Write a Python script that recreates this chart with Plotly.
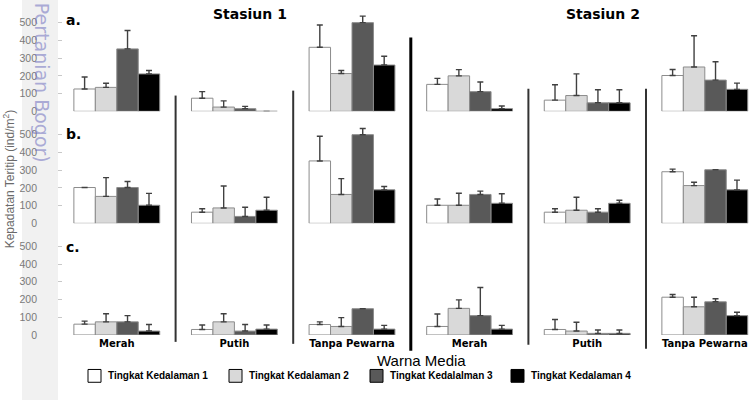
import plotly.graph_objects as go
from plotly.subplots import make_subplots

# ---------------- data ----------------
categories = ["Merah", "Putih", "Tanpa Pewarna", "Merah", "Putih", "Tanpa Pewarna"]
stations = ["Stasiun 1", "Stasiun 2"]
panel_labels = ["a.", "b.", "c."]
series_names = ["Tingkat Kedalaman 1", "Tingkat Kedalaman 2",
                "Tingkat Kedalalman 3", "Tingkat Kedalaman 4"]
y_ticks = [0, 100, 200, 300, 400, 500]

# panel a
a_level1 = [126, 74, 361, 152, 63, 202]
a_level2 = [135, 24, 213, 200, 89, 250]
a_level3 = [352, 15, 500, 111, 48, 176]
a_level4 = [211, 0, 261, 15, 48, 124]
a_err1 = [68, 37, 126, 34, 87, 34]
a_err2 = [23, 35, 17, 35, 122, 176]
a_err3 = [104, 13, 37, 54, 74, 104]
a_err4 = [19, 0, 50, 15, 74, 35]

# panel b
b_level1 = [202, 63, 352, 102, 63, 291]
b_level2 = [152, 87, 163, 102, 74, 213]
b_level3 = [202, 39, 500, 163, 63, 302]
b_level4 = [102, 74, 189, 113, 113, 189]
b_err1 = [0, 19, 139, 35, 19, 15]
b_err2 = [106, 124, 89, 68, 73, 19]
b_err3 = [34, 52, 35, 19, 19, 0]
b_err4 = [67, 73, 19, 54, 17, 55]

# panel c
c_level1 = [61, 31, 59, 48, 31, 213]
c_level2 = [74, 74, 48, 150, 22, 159]
c_level3 = [74, 22, 148, 109, 9, 187]
c_level4 = [22, 33, 33, 33, 9, 109]
c_err1 = [17, 25, 15, 70, 56, 15]
c_err2 = [46, 46, 50, 48, 50, 54]
c_err3 = [35, 37, 0, 159, 19, 17]
c_err4 = [37, 23, 21, 21, 19, 19]

panels = [
    ([a_level1, a_level2, a_level3, a_level4], [a_err1, a_err2, a_err3, a_err4]),
    ([b_level1, b_level2, b_level3, b_level4], [b_err1, b_err2, b_err3, b_err4]),
    ([c_level1, c_level2, c_level3, c_level4], [c_err1, c_err2, c_err3, c_err4]),
]

# ---------------- style ----------------
W, H = 756, 406
fills = ["#ffffff", "#d9d9d9", "#595959", "#000000"]
outline = "#8c8c8c"
err_color = "#404040"


def px_x(p):
    return p / W


def px_y(p):
    return 1 - p / H


fig = make_subplots(rows=3, cols=1, shared_xaxes=True)
xpos = list(range(len(categories)))

for r, (levels, errs) in enumerate(panels, start=1):
    for i, (vals, er) in enumerate(zip(levels, errs)):
        fig.add_trace(go.Bar(
            x=xpos, y=vals, name=series_names[i], showlegend=False,
            marker=dict(color=fills[i], line=dict(color=outline, width=1)),
            error_y=dict(type="data", symmetric=False, array=er,
                         arrayminus=[0] * len(er), color=err_color,
                         thickness=1.4, width=3),
        ), row=r, col=1)

# panel domains (pixel-derived)
y_domains = [
    [px_y(113), px_y(5)],
    [px_y(226.7), px_y(118.7)],
    [px_y(340), px_y(232)],
]
x_domain = [px_x(58), 1]
cat_px = 117.6
x_range = [-0.5, -0.5 + (W - 58) / cat_px]

layout_axes = {}
for r in range(1, 4):
    xa = "xaxis" if r == 1 else f"xaxis{r}"
    ya = "yaxis" if r == 1 else f"yaxis{r}"
    layout_axes[xa] = dict(domain=x_domain, range=x_range, showgrid=False,
                           zeroline=False, showline=False, ticks="",
                           tickvals=xpos,
                           ticktext=["<b>%s</b>" % c for c in categories],
                           showticklabels=(r == 3),
                           tickfont=dict(family="DejaVu Sans", size=10, color="#000000"),
                           ticklabelstandoff=1)
    layout_axes[ya] = dict(domain=y_domains[r - 1], range=[0, 600],
                           showgrid=False, zeroline=False, showline=False,
                           tickvals=y_ticks, ticks="inside", ticklen=4,
                           tickcolor="#c8c8c8", tickwidth=1,
                           ticklabelstandoff=20,
                           tickfont=dict(family="Liberation Sans", size=10.5, color="#7a7a7a"))

shapes = [
    # grey strip on the left
    dict(type="rect", xref="paper", yref="paper", x0=px_x(22), x1=px_x(58),
         y0=0, y1=1, fillcolor="#f1f1f1", line=dict(width=0), layer="below"),
]
# separators between colour groups
sep_specs = [
    (0.5, 97, 347, 2, "#333333"),
    (1.5, 92, 349, 2, "#333333"),
    (2.5, 38, 356, 3, "#000000"),
    (3.5, 90, 350, 2, "#333333"),
    (4.5, 90, 354, 2, "#333333"),
]
for xv, ytop, ybot, w, col in sep_specs:
    shapes.append(dict(type="line", xref="x3", yref="paper", x0=xv, x1=xv,
                       y0=px_y(ybot), y1=px_y(ytop),
                       line=dict(color=col, width=w)))

annotations = []
# panel letters
for lab, ypx in zip(panel_labels, [20, 136, 251]):
    annotations.append(dict(text="<b>%s</b>" % lab, xref="paper", yref="paper",
                            x=px_x(64), y=px_y(ypx), xanchor="left", yanchor="middle",
                            showarrow=False,
                            font=dict(family="DejaVu Sans", size=14, color="#000000")))
# station titles
for st, xc in zip(stations, [250, 603]):
    annotations.append(dict(text="<b>%s</b>" % st, xref="paper", yref="paper",
                            x=px_x(xc), y=px_y(14), xanchor="center", yanchor="middle",
                            showarrow=False,
                            font=dict(family="DejaVu Sans", size=14, color="#000000")))
# x title
annotations.append(dict(text="Warna Media", xref="paper", yref="paper",
                        x=px_x(421), y=px_y(366), xanchor="center", yanchor="middle",
                        showarrow=False,
                        font=dict(family="Liberation Sans", size=15, color="#000000")))
# y title
annotations.append(dict(text="Kepadatan Teritip (ind/m<sup>2</sup>)", xref="paper", yref="paper",
                        x=px_x(9), y=px_y(182), xanchor="center", yanchor="middle",
                        textangle=-90, showarrow=False,
                        font=dict(family="Liberation Sans", size=12, color="#6a6a6a")))
# watermark
annotations.append(dict(text="Pertanian Bogor)", xref="paper", yref="paper",
                        x=px_x(42), y=px_y(84), xanchor="center", yanchor="middle",
                        textangle=90, showarrow=False,
                        font=dict(family="DejaVu Sans", size=19,
                                  color="rgba(100,100,185,0.5)")))

# manual legend
legend_x = [88, 229, 370, 511]
for name, fc, lx in zip(series_names, fills, legend_x):
    shapes.append(dict(type="rect", xref="paper", yref="paper",
                       x0=px_x(lx), x1=px_x(lx + 13), y0=px_y(388), y1=px_y(375),
                       fillcolor=fc, line=dict(color="#000000", width=1)))
    annotations.append(dict(text="<b>%s</b>" % name, xref="paper", yref="paper",
                            x=px_x(lx + 18), y=px_y(381.5), xanchor="left",
                            yanchor="middle", showarrow=False,
                            font=dict(family="Liberation Sans", size=10, color="#000000")))

fig.update_layout(
    width=W, height=H,
    margin=dict(l=0, r=0, t=0, b=0),
    paper_bgcolor="#ffffff", plot_bgcolor="rgba(0,0,0,0)",
    barmode="group", bargap=0.27, bargroupgap=0,
    showlegend=False,
    shapes=shapes, annotations=annotations,
    **layout_axes,
)

fig.write_html("out.html",
               config={"displayModeBar": False},
               post_script="document.body.style.margin='0';document.body.style.overflow='hidden';")
